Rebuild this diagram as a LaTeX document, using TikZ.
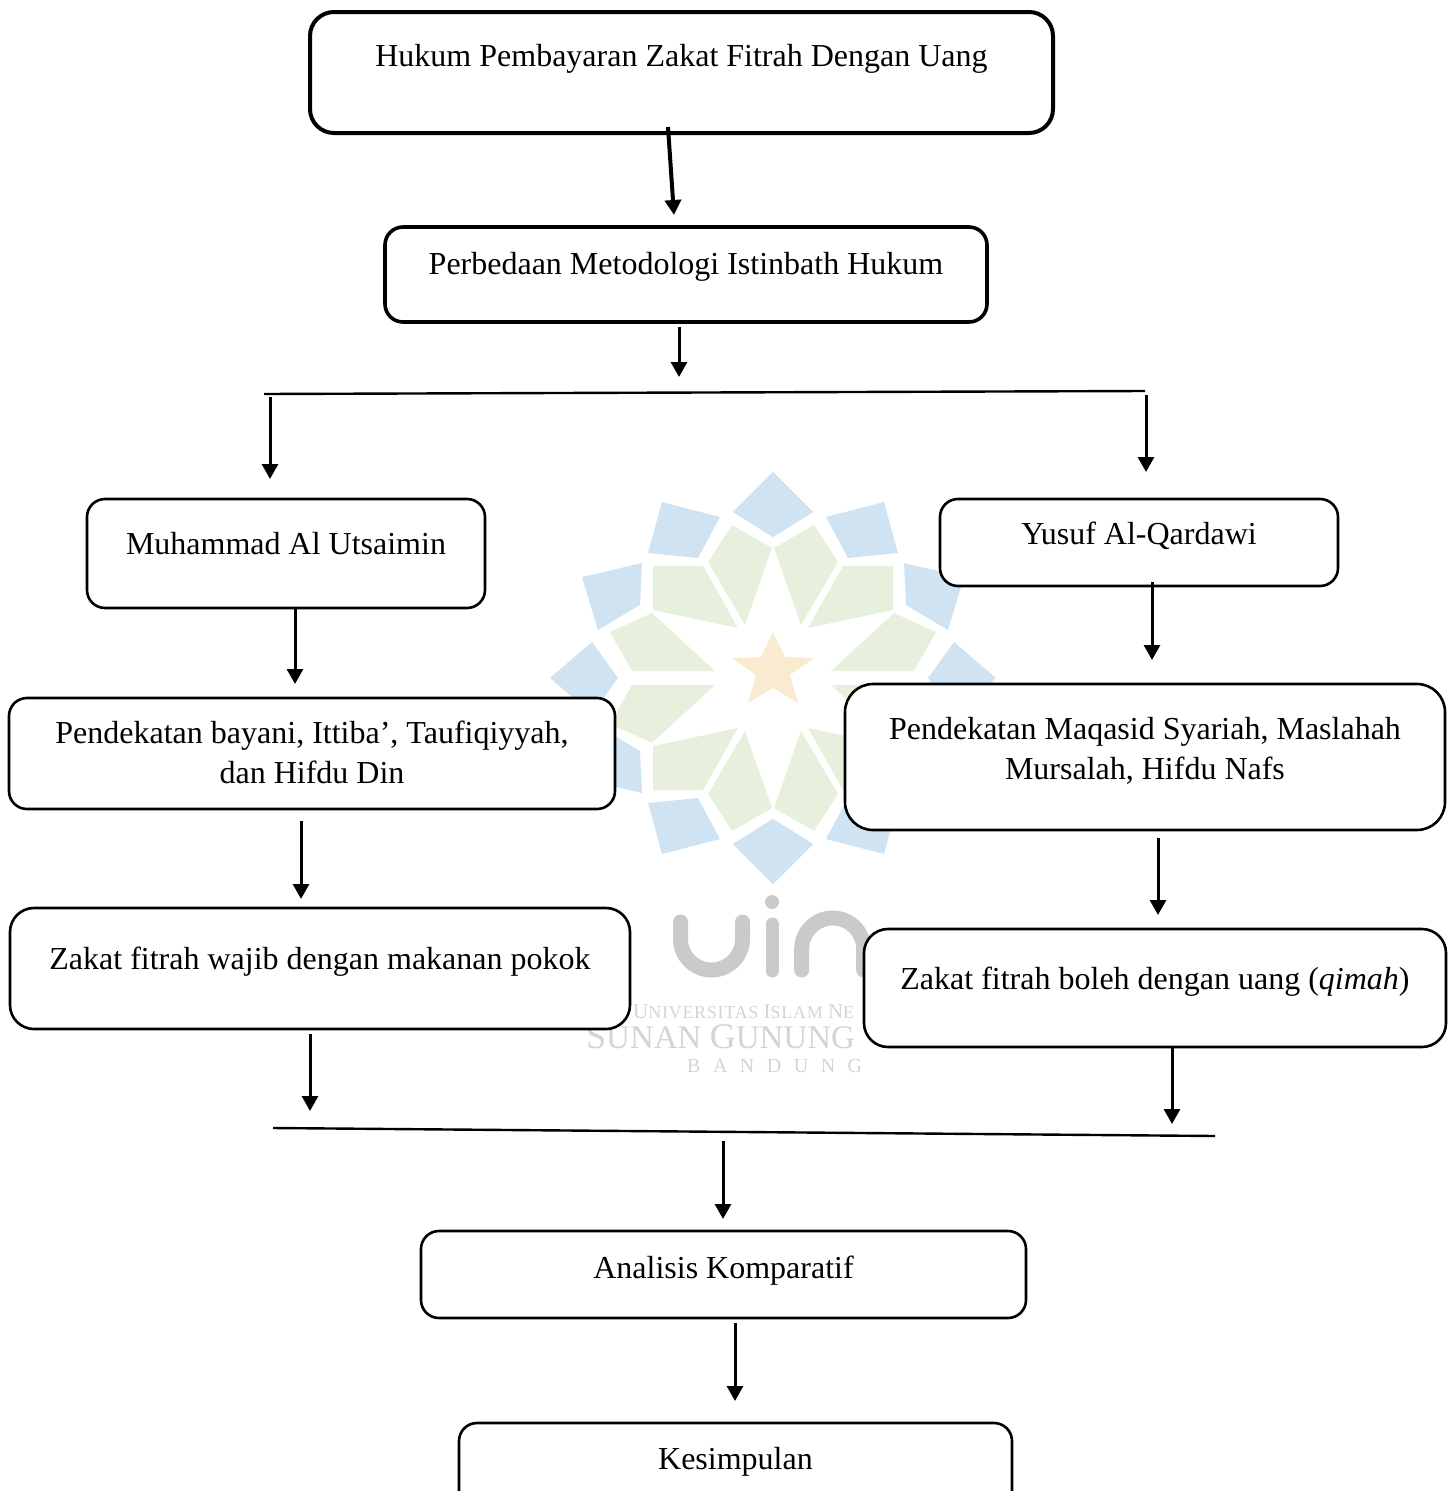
\documentclass[tikz,border=0pt]{standalone}
\usepackage{fontspec}
\setmainfont{Liberation Serif}
\usetikzlibrary{arrows.meta}
\definecolor{wmblue}{HTML}{CFE3F3}
\definecolor{wmgreen}{HTML}{E6F0DC}
\definecolor{wmgold}{HTML}{FAEBD0}
\definecolor{wmgrey}{HTML}{CACACA}
\definecolor{wmtext}{HTML}{D4D4D4}
\tikzset{
  boxthin/.style={draw=black,fill=white,line width=2.6pt,rounded corners=18pt,inner sep=0pt,outer sep=0pt,anchor=north west,align=center,
    font=\fontsize{32}{39.5}\selectfont},
  boxbold/.style={boxthin,line width=4pt,rounded corners=24pt},
  flow/.style={-{Triangle[length=15pt,width=16pt]},line width=3pt,black},
  bar/.style={line width=2.4pt,black},
  wmtxt/.style={text=wmtext,inner sep=0pt,anchor=base west},
  uinstroke/.style={wmgrey,line width=15pt,line cap=round},
}
\newcommand{\PetalQuadrant}{%
  \fill[wmblue] (0,-206)--(40,-166)--(0,-141)--(-40,-166)--cycle;
  \fill[wmblue] (111,-176)--(53,-161)--(75,-120)--(125,-125)--cycle;
  \fill[wmblue] (191,-101)--(131,-115)--(133,-73)--(175,-48)--cycle;
  \fill[wmblue] (223,0)--(181,-36)--(155,0)--cycle;
  \fill[wmgreen] (41,-153)--(1,-130)--(28,-53)--(65,-116)--cycle;
  \fill[wmgreen] (120,-112)--(70,-112)--(35,-50)--(120,-68)--cycle;
  \fill[wmgreen] (163,-46)--(121,-65)--(58,-7)--(141,-7)--cycle;
}
\begin{document}
\begin{tikzpicture}[x=1pt,y=-1pt]
\useasboundingbox (0,0) rectangle (1454,1491);
% watermark
\begin{scope}[shift={(773,678)}]
  \PetalQuadrant
  \begin{scope}[xscale=-1]\PetalQuadrant\end{scope}
  \begin{scope}[yscale=-1]\PetalQuadrant\end{scope}
  \begin{scope}[xscale=-1,yscale=-1]\PetalQuadrant\end{scope}
  \fill[wmgold] (0,-46)--(12,-21)--(41,-20)--(17,-3)--(25,25)--(0,10)--(-25,25)--(-17,-3)--(-41,-20)--(-12,-21)--cycle;
\end{scope}
\draw[uinstroke] (680.5,922)--(680.5,939) arc[start angle=180,end angle=0,radius=31]--(742.5,922);
\fill[wmgrey] (772,902) circle[radius=7];
\draw[uinstroke,line width=13pt] (772,924)--(772,971);
\draw[uinstroke] (801.7,970)--(801.7,949) arc[start angle=180,end angle=360,radius=31]--(863.7,970);
\node[wmtxt,font=\fontsize{18}{18}\selectfont\addfontfeature{LetterSpace=4}] (wma) at (633,1018)
  {{\fontsize{21}{21}\selectfont U}NIVERSITAS {\fontsize{21}{21}\selectfont I}SLAM {\fontsize{21}{21}\selectfont N}E};
\node[wmtxt,font=\fontsize{33}{33}\selectfont] (wmb) at (586,1048)
  {{\fontsize{36}{36}\selectfont S}UNAN {\fontsize{36}{36}\selectfont G}UNUNG};
\node[wmtxt,font=\fontsize{20}{20}\selectfont] (wmc) at (687,1072)
  {B\hspace{12.5pt}A\hspace{12.5pt}N\hspace{12.5pt}D\hspace{12.5pt}U\hspace{12.5pt}N\hspace{12.5pt}G};

% boxes
\node[boxbold,minimum width=743pt,text height=54pt,text depth=67pt] (a) at (310,12) {Hukum Pembayaran Zakat Fitrah Dengan Uang};
\node[boxbold,rounded corners=18pt,line width=3.6pt,minimum width=602pt,text height=47pt,text depth=48pt] (b) at (385,227) {Perbedaan Metodologi Istinbath Hukum};
\node[boxthin,minimum width=398pt,text height=55pt,text depth=54pt] (c) at (87,499) {Muhammad Al Utsaimin};
\node[boxthin,minimum width=398pt,text height=45pt,text depth=42pt] (d) at (940,499) {Yusuf Al-Qardawi};
\node[boxthin,minimum width=606pt,text height=85pt,text depth=26pt] (e) at (9,698) {Pendekatan bayani, Ittiba’, Taufiqiyyah,\\dan Hifdu Din};
\node[boxthin,rounded corners=28pt,minimum width=600pt,text height=95pt,text depth=51pt] (f) at (845,684) {Pendekatan Maqasid Syariah, Maslahah\\Mursalah, Hifdu Nafs};
\node[boxthin,rounded corners=24pt,minimum width=620pt,text height=61pt,text depth=60pt] (g) at (10,908) {Zakat fitrah wajib dengan makanan pokok};
\node[boxthin,rounded corners=24pt,minimum width=582pt,text height=60pt,text depth=58pt] (h) at (864,929) {Zakat fitrah boleh dengan uang (\textit{qimah})};
\node[boxthin,minimum width=605pt,text height=47pt,text depth=40pt] (i) at (421,1231) {Analisis Komparatif};
\node[boxthin,minimum width=553pt,text height=46pt,text depth=60pt] (j) at (459,1423) {Kesimpulan};

% named free ends
\coordinate (a1) at (668,127); \coordinate (a2) at (674,215);
\coordinate (b1) at (679,327); \coordinate (b2) at (679,377);
\coordinate (t1) at (264,394); \coordinate (t2) at (1145,391);
\coordinate (tl1) at (270,397); \coordinate (tl2) at (270,479);
\coordinate (tr1) at (1146,395); \coordinate (tr2) at (1146,472);
\coordinate (c1) at (295,608); \coordinate (c2) at (295,684);
\coordinate (d1) at (1152,582); \coordinate (d2) at (1152,660);
\coordinate (e1) at (301,821); \coordinate (e2) at (301,899);
\coordinate (f1) at (1158,838); \coordinate (f2) at (1158,915);
\coordinate (g1) at (310,1034); \coordinate (g2) at (310,1111);
\coordinate (h1) at (1172,1048); \coordinate (h2) at (1172,1124);
\coordinate (m1) at (273,1128); \coordinate (m2) at (1215,1136);
\coordinate (n1) at (723,1141); \coordinate (n2) at (723,1219);
\coordinate (i1) at (735,1323); \coordinate (i2) at (735,1401);

% connectors
\draw[flow,line width=4pt] (a1)--(a2);
\draw[flow] (b1)--(b2);
\draw[bar] (t1)--(t2);
\draw[flow] (tl1)--(tl2);
\draw[flow] (tr1)--(tr2);
\draw[flow] (c1)--(c2);
\draw[flow] (d1)--(d2);
\draw[flow] (e1)--(e2);
\draw[flow] (f1)--(f2);
\draw[flow] (g1)--(g2);
\draw[flow] (h1)--(h2);
\draw[bar] (m1)--(m2);
\draw[flow] (n1)--(n2);
\draw[flow] (i1)--(i2);
\end{tikzpicture}
\end{document}
